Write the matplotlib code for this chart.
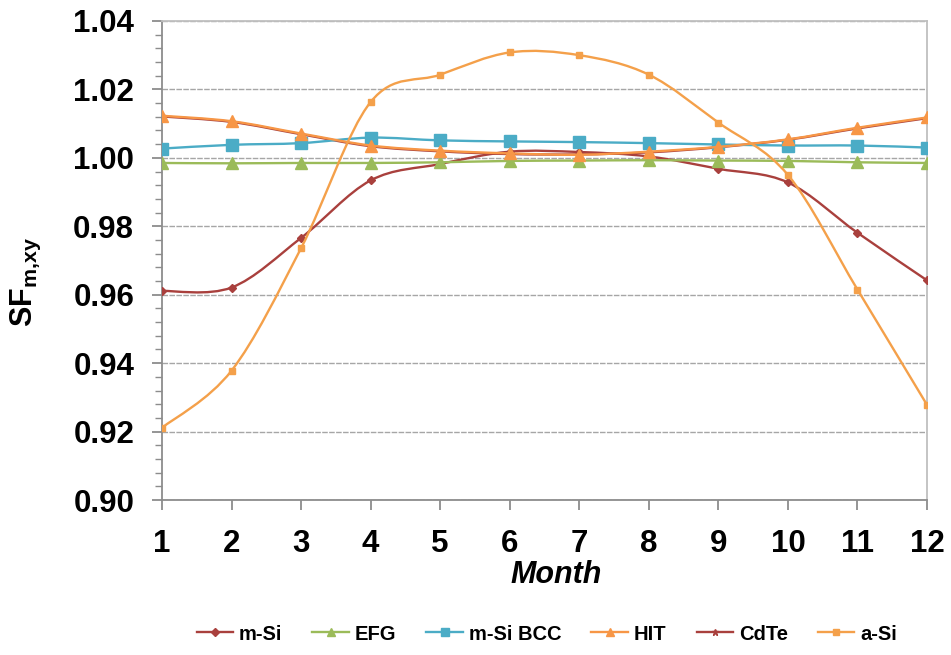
import matplotlib
matplotlib.use("Agg")
import matplotlib.pyplot as plt
from matplotlib.path import Path
from matplotlib.patches import PathPatch
from matplotlib.lines import Line2D
import numpy as np

plt.rcParams['font.family'] = ['Liberation Sans', 'DejaVu Sans']
plt.rcParams['mathtext.fontset'] = 'custom'
plt.rcParams['mathtext.rm'] = 'Liberation Sans'
plt.rcParams['mathtext.bf'] = 'Liberation Sans:bold'
plt.rcParams['mathtext.it'] = 'Liberation Sans:italic'

months = [1, 2, 3, 4, 5, 6, 7, 8, 9, 10, 11, 12]

m_si = [0.9611, 0.9621, 0.9766, 0.9934, 0.9982, 1.0018, 1.0017, 1.0004, 0.9968, 0.9928, 0.9781, 0.9642]
efg = [0.9985, 0.9984, 0.9985, 0.9985, 0.9987, 0.9991, 0.9992, 0.9993, 0.9992, 0.9991, 0.9987, 0.9985]
m_si_bcc = [1.0027, 1.0038, 1.0043, 1.0059, 1.0051, 1.0048, 1.0046, 1.0043, 1.0039, 1.0036, 1.0036, 1.0030]
hit = [1.0123, 1.0107, 1.0071, 1.0036, 1.0021, 1.0013, 1.0009, 1.0018, 1.0032, 1.0054, 1.0088, 1.0118]
cdte = [1.0121, 1.0105, 1.0069, 1.0034, 1.0019, 1.0011, 1.0010, 1.0016, 1.0031, 1.0053, 1.0086, 1.0116]
a_si = [0.9211, 0.9378, 0.9736, 1.0163, 1.0243, 1.0308, 1.0300, 1.0243, 1.0103, 0.9950, 0.9615, 0.9278]

# name, values, colour, marker, marker size, zorder
series = [
    ("m-Si", m_si, "#A9403D", "D", 4.5, 3),
    ("EFG", efg, "#9BBB59", "^", 8, 3),
    ("m-Si BCC", m_si_bcc, "#4BACC6", "s", 9, 3),
    ("HIT", hit, "#F79646", "^", 9, 5),
    ("CdTe", cdte, "#A9403D", "*", 5, 2),
    ("a-Si", a_si, "#F4A04A", "s", 5, 6),
]


def smooth_path(xs, ys):
    # excel-style smoothed line: cubic bezier through every point
    pts = np.column_stack([xs, ys]).astype(float)
    n = len(pts)
    verts = [pts[0]]
    codes = [Path.MOVETO]
    for i in range(n - 1):
        p0 = pts[i - 1] if i > 0 else pts[i]
        p1 = pts[i]
        p2 = pts[i + 1]
        p3 = pts[i + 2] if i + 2 < n else pts[i + 1]
        c1 = p1 + (p2 - p0) / 6.0
        c2 = p2 - (p3 - p1) / 6.0
        verts += [c1, c2, p2]
        codes += [Path.CURVE4] * 3
    return Path(verts, codes)


fig = plt.figure(figsize=(9.51, 6.55), dpi=100)
ax = fig.add_axes([0.1703, 0.2366, 0.8045, 0.7314])

handles = []
for name, vals, color, marker, ms, z in series:
    patch = PathPatch(smooth_path(months, vals), facecolor='none', edgecolor=color,
                      lw=1.7, zorder=z)
    ax.add_patch(patch)
    ax.plot(months, vals, linestyle='none', marker=marker, markersize=ms,
            color=color, markeredgecolor=color, zorder=z + 0.5)
    handles.append(Line2D([], [], color=color, lw=1.7, marker=marker,
                          markersize=min(ms, 6), markeredgecolor=color))

ax.set_xlim(1, 12)
ax.set_ylim(0.90, 1.04)
ax.set_xticks(months)
ax.set_yticks(np.arange(0.90, 1.0401, 0.02))
ax.set_yticks(np.arange(0.90, 1.0401, 0.004), minor=True)
ax.set_yticklabels([f"{v:.2f}" for v in np.arange(0.90, 1.0401, 0.02)])

ax.grid(axis='y', which='major', color='#A6A6A6', linestyle=(0, (4, 1)), lw=1.0, zorder=1)
ax.set_axisbelow(True)

for s in ['left', 'bottom']:
    ax.spines[s].set_color('#8C8C8C')
    ax.spines[s].set_linewidth(1.3)
for s in ['top', 'right']:
    ax.spines[s].set_color('#BFBFBF')
    ax.spines[s].set_linewidth(1.3)

ax.tick_params(axis='both', which='major', labelsize=22.5, width=1.3, length=7,
               color='#8C8C8C', direction='out')
ax.tick_params(axis='y', which='minor', width=1.0, length=5, color='#8C8C8C')
ax.tick_params(axis='x', pad=14)
ax.tick_params(axis='y', pad=13)
for lab in ax.get_xticklabels() + ax.get_yticklabels():
    lab.set_fontweight('bold')

ax.set_xlabel("Month", fontsize=22, fontweight='bold', fontstyle='italic')
ax.xaxis.set_label_coords(0.515, -0.125)
ax.set_ylabel(r"$\mathbf{SF_{m,\!xy}}$", fontsize=22)
ax.yaxis.set_label_coords(-0.155, 0.455)

fig.legend(handles=handles, labels=[s[0] for s in series], loc='center',
           bbox_to_anchor=(0.575, 0.032), ncol=6, frameon=False,
           prop={'weight': 'bold', 'size': 14.5}, handlelength=1.8,
           handletextpad=0.3, columnspacing=1.5)

fig.savefig("out.png", dpi=100)
plt.close(fig)
